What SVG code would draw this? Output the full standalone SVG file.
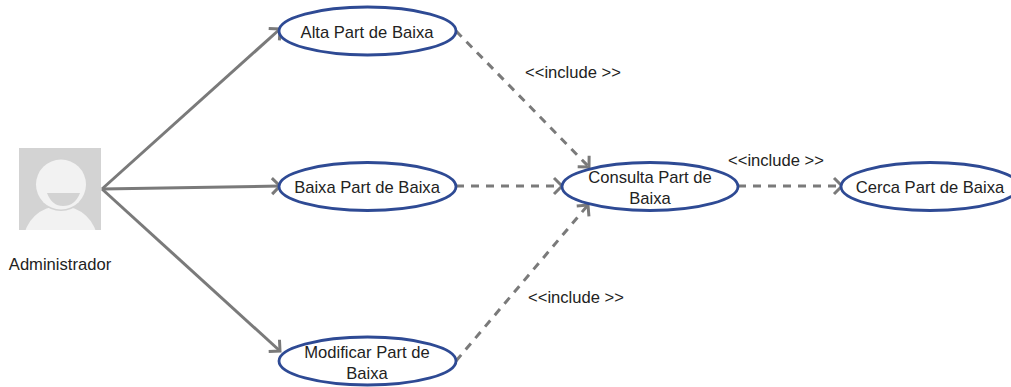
<svg xmlns="http://www.w3.org/2000/svg" width="1011" height="387" viewBox="0 0 1011 387">
<style>
.n{fill:#fff;stroke:#2e4a94;stroke-width:2.8}
.t{font-family:"Liberation Sans",Arial,sans-serif;font-size:16.6px;fill:#222;text-anchor:middle}
.c{fill:none;stroke:#7a7a7a;stroke-width:3}
.d{stroke-dasharray:8 7}
.h{fill:none;stroke:#7a7a7a;stroke-width:3}
</style>
<defs>
<marker id="a" markerUnits="userSpaceOnUse" markerWidth="16" markerHeight="24" refX="10" refY="12" orient="auto" overflow="visible"><path class="h" d="M2 4L10 12L2 20"/></marker>
<clipPath id="av"><rect x="19" y="148" width="82" height="82"/></clipPath>
</defs>
<g id="connectors">
<path class="c" d="M102 189L280 29" marker-end="url(#a)"/>
<path class="c" d="M102 189L280 186" marker-end="url(#a)"/>
<path class="c" d="M102 189L280 351" marker-end="url(#a)"/>
<path class="c d" d="M456 31L589 167" marker-end="url(#a)"/>
<path class="c d" d="M456 186L562 186" marker-end="url(#a)"/>
<path class="c d" d="M456 361L588 205" marker-end="url(#a)"/>
<path class="c d" d="M738 186L842 186" marker-end="url(#a)"/>
</g>
<g id="actor">
<rect x="19" y="148" width="82" height="82" fill="#d3d3d3"/>
<g clip-path="url(#av)">
<ellipse cx="60.500" cy="240" rx="36.500" ry="34" fill="#f2f2f2"/>
<circle cx="61" cy="184.500" r="26.500" fill="#d3d3d3"/>
<circle cx="61" cy="184.500" r="25" fill="#f2f2f2"/>
<path d="M47 193H80Q75 206 63 206Q52 206 47 193Z" fill="#d3d3d3"/>
</g>
<text class="t" x="60" y="270">Administrador</text>
</g>
<g id="alta"><ellipse class="n" cx="367.500" cy="31" rx="88.500" ry="24"/><text class="t" x="367" y="38">Alta Part de Baixa</text></g>
<g id="baixa"><ellipse class="n" cx="367.500" cy="186.500" rx="88.500" ry="24"/><text class="t" x="367" y="193">Baixa Part de Baixa</text></g>
<g id="modificar"><ellipse class="n" cx="367.500" cy="361" rx="88.500" ry="24"/><text class="t" x="367" y="358">Modificar Part de</text><text class="t" x="367" y="379">Baixa</text></g>
<g id="consulta"><ellipse class="n" cx="650" cy="186.500" rx="88" ry="24"/><text class="t" x="650" y="183">Consulta Part de</text><text class="t" x="650" y="204">Baixa</text></g>
<g id="cerca"><ellipse class="n" cx="930" cy="186.500" rx="89" ry="24"/><text class="t" x="930" y="193">Cerca Part de Baixa</text></g>
<g id="labels">
<text class="t" x="573" y="78">&lt;&lt;include &gt;&gt;</text>
<text class="t" x="776" y="166">&lt;&lt;include &gt;&gt;</text>
<text class="t" x="576" y="303">&lt;&lt;include &gt;&gt;</text>
</g>
</svg>
